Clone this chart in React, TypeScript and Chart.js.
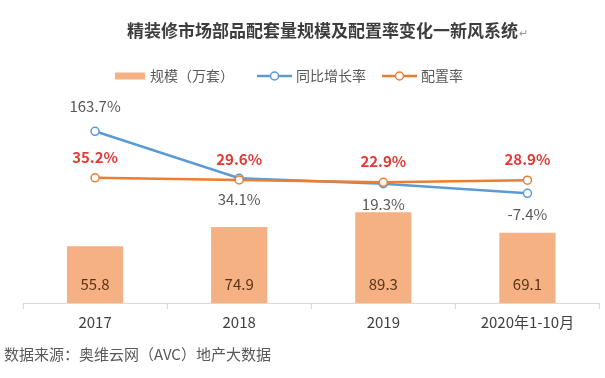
import React, { useEffect, useRef } from "react";
import { Chart, registerables } from "chart.js";

Chart.register(...registerables);

const categories = ["2017", "2018", "2019", "2020年1-10月"];
const scaleValues = [55.8, 74.9, 89.3, 69.1];
const growthRates = [163.7, 34.1, 19.3, -7.4];
const configRates = [35.2, 29.6, 22.9, 28.9];
const seriesNames = ["规模（万套）", "同比增长率", "配置率"];
const titleText = "精装修市场部品配套量规模及配置率变化一新风系统";
const sourceText = "数据来源：奥维云网（AVC）地产大数据";

const FONT = '"Noto Sans CJK SC", "Noto Sans", sans-serif';
const BAR = "#F5B184";
const BLUE = "#5B9BD5";
const ORANGE = "#ED7D31";

const overlay = {
  id: "overlay",
  afterDatasetsDraw(chart: any) {
    const ctx = chart.ctx as CanvasRenderingContext2D;
    ctx.save();
    ctx.textAlign = "center";
    ctx.textBaseline = "middle";
    const barMeta = chart.getDatasetMeta(0);
    ctx.font = `15px ${FONT}`;
    ctx.fillStyle = "#5a3515";
    barMeta.data.forEach((el: any, i: number) => {
      ctx.fillText(scaleValues[i].toFixed(1), el.x, chart.chartArea.bottom - 19);
    });
    const blue = chart.getDatasetMeta(1);
    const orange = chart.getDatasetMeta(2);
    ctx.font = `bold 15px ${FONT}`;
    ctx.fillStyle = "#E53935";
    orange.data.forEach((el: any, i: number) => {
      ctx.fillText(configRates[i].toFixed(1) + "%", el.x, el.y - 21);
    });
    ctx.font = `15px ${FONT}`;
    ctx.fillStyle = "#595959";
    blue.data.forEach((el: any, i: number) => {
      const above = el.y < orange.data[i].y - 10;
      ctx.fillText(growthRates[i].toFixed(1) + "%", el.x, above ? el.y - 25 : el.y + 21);
    });
    ctx.restore();
  },
  afterDraw(chart: any) {
    const ctx = chart.ctx as CanvasRenderingContext2D;
    ctx.save();
    // title
    ctx.textBaseline = "middle";
    ctx.textAlign = "left";
    ctx.font = `bold 17px ${FONT}`;
    ctx.fillStyle = "#3d3d3d";
    ctx.fillText(titleText, 127, 31);
    const tw = ctx.measureText(titleText).width;
    ctx.font = `11px ${FONT}`;
    ctx.fillStyle = "#9a9a9a";
    ctx.fillText("↵", 127 + tw + 1, 33);

    // legend
    const ly = 76;
    ctx.fillStyle = BAR;
    ctx.fillRect(115, ly - 3.5, 30, 7);
    ctx.font = `14px ${FONT}`;
    ctx.fillStyle = "#595959";
    ctx.fillText(seriesNames[0], 150, ly);
    const drawLineKey = (x0: number, color: string) => {
      ctx.strokeStyle = color;
      ctx.lineWidth = 2.5;
      ctx.beginPath();
      ctx.moveTo(x0, ly);
      ctx.lineTo(x0 + 35, ly);
      ctx.stroke();
      ctx.beginPath();
      ctx.arc(x0 + 17.5, ly, 4, 0, Math.PI * 2);
      ctx.fillStyle = "#ffffff";
      ctx.fill();
      ctx.lineWidth = 1.5;
      ctx.stroke();
    };
    drawLineKey(257, BLUE);
    ctx.fillStyle = "#595959";
    ctx.fillText(seriesNames[1], 296, ly);
    drawLineKey(382, ORANGE);
    ctx.fillStyle = "#595959";
    ctx.fillText(seriesNames[2], 421, ly);

    // source
    ctx.font = `15px ${FONT}`;
    ctx.fillStyle = "#595959";
    ctx.fillText(sourceText, 4, 354);
    ctx.restore();
  },
};

export default function App() {
  const ref = useRef<HTMLCanvasElement | null>(null);
  useEffect(() => {
    if (!ref.current) return;
    const chart = new Chart(ref.current, {
      type: "bar",
      data: {
        labels: categories,
        datasets: [
          {
            type: "bar",
            label: seriesNames[0],
            data: scaleValues,
            backgroundColor: BAR,
            yAxisID: "y",
            categoryPercentage: 1,
            barPercentage: 0.39,
            order: 3,
          },
          {
            type: "line",
            label: seriesNames[1],
            data: growthRates,
            borderColor: BLUE,
            borderWidth: 2.5,
            pointRadius: 4,
            pointBorderWidth: 1.5,
            pointBackgroundColor: "#ffffff",
            pointBorderColor: BLUE,
            yAxisID: "y1",
            order: 2,
          },
          {
            type: "line",
            label: seriesNames[2],
            data: configRates,
            borderColor: ORANGE,
            borderWidth: 2.5,
            pointRadius: 4,
            pointBorderWidth: 1.5,
            pointBackgroundColor: "#ffffff",
            pointBorderColor: ORANGE,
            yAxisID: "y1",
            order: 1,
          },
        ] as any,
      },
      options: {
        responsive: false,
        animation: false,
        devicePixelRatio: 1,
        layout: { padding: { top: 100, left: 23, right: 0, bottom: 0 } },
        plugins: {
          legend: { display: false },
          title: { display: false },
          tooltip: { enabled: false },
        },
        scales: {
          x: {
            grid: {
              display: true,
              drawOnChartArea: false,
              drawTicks: true,
              tickLength: 6,
              color: "#d9d9d9",
              offset: true,
            },
            border: { display: true, color: "#d9d9d9" },
            ticks: { color: "#404040", font: { size: 15, family: FONT }, padding: 4, maxRotation: 0 },
            afterFit: (s: any) => {
              s.height = 75;
            },
          },
          y: { display: false, min: 0, max: 200 },
          y1: { display: false, min: -310, max: 250 },
        },
      } as any,
      plugins: [overlay],
    });
    return () => chart.destroy();
  }, []);
  return (
    <div style={{ position: "absolute", left: 0, top: 0, width: 605, height: 378, background: "#fff" }}>
      <canvas ref={ref} width={605} height={378} style={{ display: "block" }} />
    </div>
  );
}
